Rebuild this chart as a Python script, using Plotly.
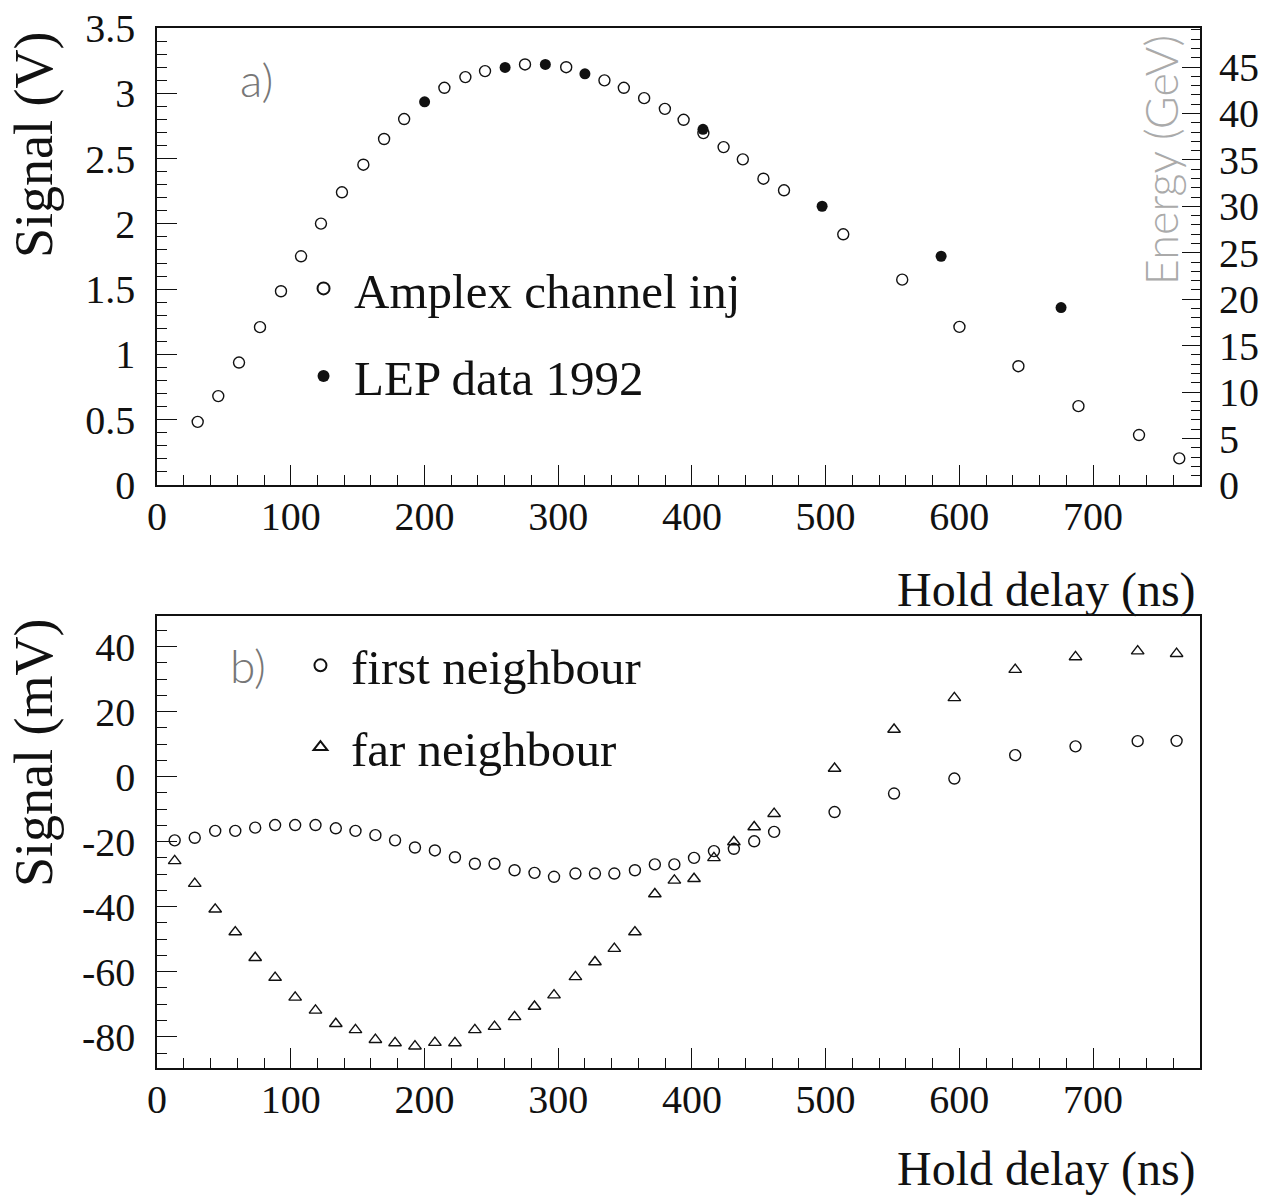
import plotly.graph_objects as go

# ---------------- data: panel a) ----------------
amplex_x = [30.4, 45.8, 61.3, 77.0, 92.7, 107.7, 122.6, 138.3, 154.3, 169.8, 184.8,
            214.9, 230.6, 245.3, 275.2, 306.0, 334.6, 349.1, 364.3, 379.8, 393.8,
            408.6, 423.7, 438.1, 453.5, 468.9, 513.2, 557.3, 600.1, 644.2, 689.1,
            734.4, 764.5]
amplex_v = [0.484, 0.681, 0.938, 1.209, 1.484, 1.752, 2.002, 2.242, 2.453, 2.650, 2.803,
            3.042, 3.124, 3.170, 3.221, 3.200, 3.099, 3.042, 2.963, 2.881, 2.797,
            2.695, 2.588, 2.494, 2.346, 2.257, 1.920, 1.573, 1.211, 0.910, 0.604,
            0.383, 0.204]
lep_x = [200.1, 260.3, 290.4, 320.0, 408.3, 497.4, 586.4, 676.1]
lep_v = [2.935, 3.198, 3.221, 3.149, 2.724, 2.135, 1.752, 1.359]

# ---------------- data: panel b) ----------------
nb_x = [13.2, 28.2, 43.5, 58.5, 73.4, 88.3, 103.3, 118.5, 133.7, 148.4, 163.3, 178.0,
        192.9, 207.8, 222.8, 237.7, 252.4, 267.4, 282.3, 296.9, 312.9, 327.5, 342.0,
        357.4, 372.3, 386.9, 401.6, 416.5, 431.4, 446.6, 461.5, 506.7, 551.2, 596.3,
        641.8, 686.9, 733.4, 762.5]
first_mv = [-19.6, -18.8, -16.7, -16.7, -15.7, -14.9, -14.9, -14.9, -15.9, -16.7, -18.0,
            -19.6, -21.8, -22.7, -24.8, -26.8, -26.8, -28.8, -29.6, -30.8, -29.8, -29.8,
            -29.8, -28.8, -27.0, -27.0, -25.0, -22.9, -22.2, -19.9, -17.0, -10.9, -5.2,
            -0.6, 6.6, 9.3, 10.9, 11.0]
far_mv = [-25.9, -32.9, -40.8, -47.8, -55.7, -61.8, -67.9, -71.9, -76.0, -77.9, -80.9,
          -81.9, -82.9, -81.8, -81.9, -77.9, -76.9, -73.9, -70.7, -67.2, -61.6, -57.0,
          -52.9, -47.8, -36.1, -31.9, -31.4, -25.0, -20.1, -15.5, -11.4, 2.5, 14.5,
          24.2, 32.9, 36.8, 38.6, 37.8]

# tick labels
x_ticks = [0, 100, 200, 300, 400, 500, 600, 700]
mv_ticks = [-80, -60, -40, -20, 0, 20, 40]
mv_ticktext = ["-80", "-60", "-40", "-20", "0", "20", "40"]

SERIF = "Liberation Serif"
BLACK = "#111111"

fig = go.Figure()

mk_open = dict(symbol="circle-open", size=11, color=BLACK, line=dict(width=1.4, color=BLACK))
fig.add_trace(go.Scatter(x=amplex_x, y=amplex_v, mode="markers", name="Amplex channel inj",
                         marker=mk_open, xaxis="x", yaxis="y", legend="legend",
                         legendgroup="a1"))
fig.add_trace(go.Scatter(x=lep_x, y=lep_v, mode="markers", name="LEP data 1992",
                         marker=dict(symbol="circle", size=11, color=BLACK),
                         xaxis="x", yaxis="y", legend="legend", legendgroup="a2"))
# empty trace to activate energy axis
fig.add_trace(go.Scatter(x=[None], y=[None], xaxis="x", yaxis="y2", showlegend=False))

fig.add_trace(go.Scatter(x=nb_x, y=first_mv, mode="markers", name="first neighbour",
                         marker=mk_open, xaxis="x2", yaxis="y3", legend="legend2",
                         legendgroup="b1"))
fig.add_trace(go.Scatter(x=nb_x, y=far_mv, mode="markers", name="far neighbour",
                         marker=dict(symbol="triangle-up-open", size=11, color=BLACK,
                                     line=dict(width=1.4, color=BLACK)),
                         xaxis="x2", yaxis="y3", legend="legend2", legendgroup="b2"))

XD = [0.1224, 0.9353]
tickfont = dict(family=SERIF, size=40, color=BLACK)
common_x = dict(range=[0, 780], tickmode="array", tickvals=x_ticks, ticks="inside",
                ticklen=20, tickwidth=1.3, tickcolor=BLACK, showline=True, linewidth=1.5,
                linecolor=BLACK, mirror=True, showgrid=False, zeroline=False,
                tickfont=tickfont, ticklabelstandoff=-5, automargin=False,
                minor=dict(tickmode="linear", tick0=0, dtick=20, ticks="inside",
                           ticklen=10, tickwidth=1, tickcolor=BLACK))

fig.update_layout(
    width=1283, height=1197, margin=dict(l=0, r=0, t=0, b=0),
    paper_bgcolor="white", plot_bgcolor="white",
    xaxis=dict(domain=XD, anchor="y", **common_x),
    xaxis2=dict(domain=XD, anchor="y3", **common_x),
    yaxis=dict(domain=[0.5948, 0.9766], anchor="x", range=[0, 3.5], dtick=0.5,
               ticks="inside", ticklen=20, tickwidth=1.3, tickcolor=BLACK,
               showline=True, linewidth=1.5, linecolor=BLACK, mirror=True,
               showgrid=False, zeroline=False, tickfont=tickfont, ticklabelstandoff=12,
               automargin=False,
               minor=dict(tickmode="linear", tick0=0, dtick=0.1, ticks="inside",
                          ticklen=10, tickwidth=1, tickcolor=BLACK)),
    yaxis2=dict(overlaying="y", side="right", anchor="x", range=[0, 49.2], dtick=5,
                ticks="inside", ticklen=18, tickwidth=1.3, tickcolor=BLACK,
                showline=False, showgrid=False, zeroline=False, tickfont=tickfont,
                ticklabelstandoff=18, automargin=False,
                minor=dict(tickmode="linear", tick0=0, dtick=1, ticks="inside",
                           ticklen=9, tickwidth=1, tickcolor=BLACK)),
    yaxis3=dict(domain=[0.1078, 0.4854], anchor="x2", range=[-89.6, 49.4],
                tickmode="array", tickvals=mv_ticks, ticktext=mv_ticktext,
                ticks="inside", ticklen=20, tickwidth=1.3, tickcolor=BLACK,
                showline=True, linewidth=1.5, linecolor=BLACK, mirror=True,
                showgrid=False, zeroline=False, tickfont=tickfont, ticklabelstandoff=12,
                automargin=False,
                minor=dict(tickmode="linear", tick0=0, dtick=5, ticks="inside",
                           ticklen=10, tickwidth=1, tickcolor=BLACK)),
    legend=dict(x=0.2284, y=0.7911, xanchor="left", yanchor="top", bgcolor="rgba(0,0,0,0)",
                font=dict(family=SERIF, size=49, color=BLACK), tracegroupgap=21,
                itemsizing="constant", itemwidth=51),
    legend2=dict(x=0.226, y=0.4762, xanchor="left", yanchor="top", bgcolor="rgba(0,0,0,0)",
                 font=dict(family=SERIF, size=49, color=BLACK), tracegroupgap=15,
                 itemsizing="constant", itemwidth=51),
    showlegend=True,
)

ann = []
ann.append(dict(text="Signal (V)", xref="paper", yref="paper", x=0.0265, y=0.8789,
                xanchor="center", yanchor="middle",
                textangle=-90, showarrow=False, font=dict(family=SERIF, size=54, color=BLACK)))
ann.append(dict(text="Signal (mV)", xref="paper", yref="paper", x=0.0265, y=0.3709,
                xanchor="center", yanchor="middle",
                textangle=-90, showarrow=False, font=dict(family=SERIF, size=54, color=BLACK)))
ann.append(dict(text="Hold delay (ns)", xref="paper", yref="paper", x=0.9335, y=0.5071,
                xanchor="right", yanchor="middle", showarrow=False,
                font=dict(family=SERIF, size=48, color=BLACK)))
ann.append(dict(text="Hold delay (ns)", xref="paper", yref="paper", x=0.9335, y=0.0235,
                xanchor="right", yanchor="middle", showarrow=False,
                font=dict(family=SERIF, size=48, color=BLACK)))
ann.append(dict(text="Energy (GeV)", xref="paper", yref="paper", x=0.9055, y=0.866,
                xanchor="center", yanchor="middle",
                textangle=-90, showarrow=False,
                font=dict(family="Lato", size=45, color="#aaaaaa", weight=300)))
ann.append(dict(text="a)", xref="paper", yref="paper", x=0.2003, y=0.9332,
                xanchor="center", yanchor="middle",
                showarrow=False, font=dict(family="Lato", size=46, color="#777777", weight=300)))
ann.append(dict(text="b)", xref="paper", yref="paper", x=0.1933, y=0.4444,
                xanchor="center", yanchor="middle",
                showarrow=False, font=dict(family="Lato", size=46, color="#777777", weight=300)))
fig.update_layout(annotations=ann)

fig.write_html("out.html")
